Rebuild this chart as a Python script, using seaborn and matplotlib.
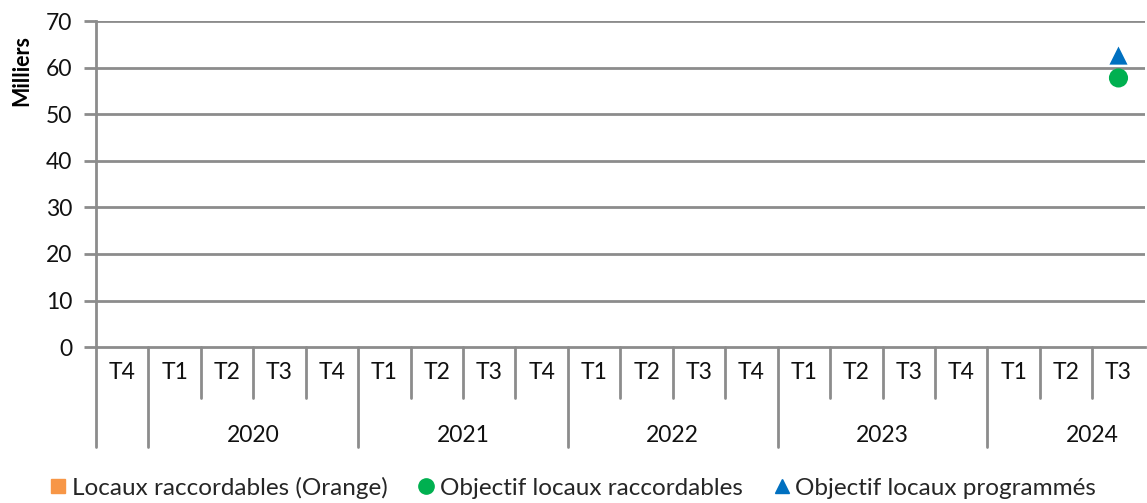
import numpy as np
import pandas as pd
import matplotlib.pyplot as plt
from matplotlib.lines import Line2D
import seaborn as sns

# quarters shown on the x axis (first one is T4 2019, no year label)
years = ["", "2020", "2020", "2020", "2020", "2021", "2021", "2021", "2021",
         "2022", "2022", "2022", "2022", "2023", "2023", "2023", "2023",
         "2024", "2024", "2024"]
quarters = ["T4", "T1", "T2", "T3", "T4", "T1", "T2", "T3", "T4",
            "T1", "T2", "T3", "T4", "T1", "T2", "T3", "T4", "T1", "T2", "T3"]

# values in thousands
raccordables = [np.nan] * 20
objectif_raccordables = [np.nan] * 19 + [57.8]
objectif_programmes = [np.nan] * 19 + [62.6]

sns.set_theme(style="white")
plt.rcParams["font.family"] = ["Lato", "DejaVu Sans"]
grey = "#8c8c8c"
c_orange = "#F79646"
c_green = "#00B050"
c_blue = "#0070C0"

df = pd.DataFrame({"pos": np.arange(len(quarters)), "year": years, "quarter": quarters,
                   "raccordables": raccordables,
                   "obj_racc": objectif_raccordables,
                   "obj_prog": objectif_programmes})

fig = plt.figure(figsize=(11.47, 5.03), dpi=100)
ax = fig.add_axes([0.0837, 0.31, 0.9143, 0.648])

ax.bar(df["pos"], df["raccordables"].fillna(0), width=0.6, color=c_orange)
sns.scatterplot(data=df, x="pos", y="obj_racc", ax=ax, marker="o", s=190,
                color=c_green, edgecolor="none", zorder=3)
sns.scatterplot(data=df, x="pos", y="obj_prog", ax=ax, marker="^", s=170,
                color=c_blue, edgecolor="none", zorder=3)

n = len(quarters)
ax.set_xlim(-0.5, n - 0.5)
ax.set_ylim(0, 70)
ax.set_yticks(range(0, 71, 10))
for v in range(10, 71, 10):
    ax.axhline(v, color=grey, lw=2, zorder=0)
for s in ["top", "right"]:
    ax.spines[s].set_visible(False)
ax.spines["left"].set_color(grey)
ax.spines["left"].set_linewidth(2)
ax.spines["bottom"].set_color(grey)
ax.spines["bottom"].set_linewidth(2)
ax.tick_params(axis="y", which="major", left=True, length=9, width=2, color=grey,
               labelsize=16.5, pad=8, labelcolor="#111111")
ax.set_xticks([])
ax.set_xlabel("")
ax.set_ylabel("Milliers", fontsize=15.5, fontweight="bold", color="black")
ax.yaxis.set_label_coords(-0.061, 0.85)

# two-level category axis
trans = ax.get_xaxis_transform()
for i in range(n):
    ax.text(i, -0.077, quarters[i], transform=trans, ha="center", va="center",
            fontsize=16.5, color="#111111")
    new_group = i == 0 or years[i] != years[i - 1]
    ax.add_line(Line2D([i - 0.5, i - 0.5], [0, -0.307 if new_group else -0.156],
                       transform=trans, color=grey, lw=2, clip_on=False))
for y in dict.fromkeys(years):
    if not y:
        continue
    first = years.index(y)
    ax.text(first + 1.5, -0.27, y, transform=trans, ha="center", va="center",
            fontsize=16.5, color="#111111")

handles = [
    Line2D([], [], marker="s", ls="none", color=c_orange, markersize=9.5),
    Line2D([], [], marker="o", ls="none", color=c_green, markersize=11),
    Line2D([], [], marker="^", ls="none", color=c_blue, markersize=9.5),
]
labels = ["Locaux raccordables (Orange)", "Objectif locaux raccordables",
          "Objectif locaux programmés"]
fig.legend(handles, labels, loc="center", bbox_to_anchor=(0.5, 0.03), ncol=3,
           frameon=False, fontsize=17.5, handlelength=0.6, handletextpad=0.25,
           columnspacing=1.3)

fig.savefig("out.png", dpi=100)
